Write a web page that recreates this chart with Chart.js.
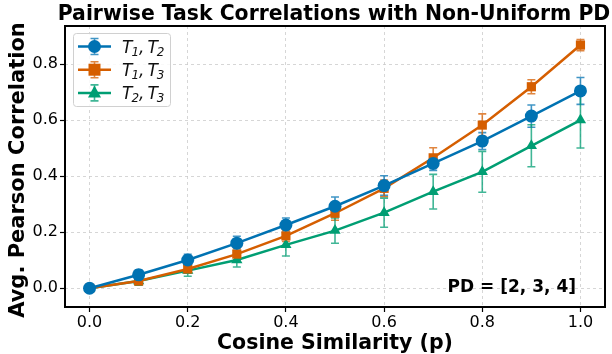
<!DOCTYPE html>
<html>
<head>
<meta charset="utf-8">
<script src="https://cdn.jsdelivr.net/npm/chart.js@4"></script>
<style>
  html, body { margin: 0; padding: 0; background: #fff; }
  #wrap { width: 612px; height: 354px; }
</style>
</head>
<body>
<div id="wrap"><canvas id="myChart" width="612" height="354"></canvas></div>
<script>
// data
const cosSim = [0.0, 0.1, 0.2, 0.3, 0.4, 0.5, 0.6, 0.7, 0.8, 0.9, 1.0];
const t12 = [0.0, 0.048, 0.101, 0.161, 0.226, 0.293, 0.367, 0.446, 0.526, 0.615, 0.705];
const t12Err = [0.012, 0.018, 0.02, 0.025, 0.025, 0.033, 0.035, 0.025, 0.03, 0.04, 0.048];
const t13 = [0.0, 0.026, 0.069, 0.122, 0.187, 0.268, 0.357, 0.466, 0.583, 0.72, 0.869];
const t13Err = [0.012, 0.015, 0.015, 0.02, 0.02, 0.025, 0.03, 0.036, 0.04, 0.025, 0.02];
const t23 = [0.0, 0.026, 0.063, 0.101, 0.155, 0.206, 0.27, 0.345, 0.416, 0.509, 0.601];
const t23Err = [0.012, 0.015, 0.02, 0.025, 0.04, 0.045, 0.052, 0.062, 0.073, 0.075, 0.1];
const xTicks = [0.0, 0.2, 0.4, 0.6, 0.8, 1.0];
const yTicks = [0.0, 0.2, 0.4, 0.6, 0.8];
const seriesNames = [['1', '2'], ['1', '3'], ['2', '3']];

const colors = ['#0072B2', '#D55E00', '#009E73'];
const markers = ['circle', 'rect', 'triangle'];
const FONT = "'DejaVu Sans', sans-serif";

function toPoints(ys) {
  return cosSim.map((x, i) => ({ x: x, y: ys[i] }));
}

const errors = [t12Err, t13Err, t23Err];

const datasets = [t12, t13, t23].map((ys, i) => ({
  label: 'T' + seriesNames[i][0] + ', T' + seriesNames[i][1],
  data: toPoints(ys),
  borderColor: colors[i],
  backgroundColor: colors[i],
  borderWidth: 2.5,
  pointStyle: markers[i],
  pointRadius: 6.5,
  pointBorderWidth: 0,
  pointHoverRadius: 6.5,
  tension: 0,
}));

function hexA(hex, a) {
  const r = parseInt(hex.slice(1, 3), 16), g = parseInt(hex.slice(3, 5), 16), b = parseInt(hex.slice(5, 7), 16);
  return 'rgba(' + r + ',' + g + ',' + b + ',' + a + ')';
}

// error bars, drawn under the markers
const errorBars = {
  id: 'errorBars',
  beforeDatasetsDraw(chart) {
    const ctx = chart.ctx;
    const xs = chart.scales.x, ys = chart.scales.y;
    ctx.save();
    errors.forEach((err, d) => {
      ctx.strokeStyle = hexA(colors[d], 0.75);
      ctx.lineWidth = 1.6;
      chart.data.datasets[d].data.forEach((p, i) => {
        const px = xs.getPixelForValue(p.x);
        const top = ys.getPixelForValue(p.y + err[i]);
        const bot = ys.getPixelForValue(p.y - err[i]);
        ctx.beginPath();
        ctx.moveTo(px, top); ctx.lineTo(px, bot);
        ctx.moveTo(px - 4, top); ctx.lineTo(px + 4, top);
        ctx.moveTo(px - 4, bot); ctx.lineTo(px + 4, bot);
        ctx.stroke();
      });
    });
    ctx.restore();
  }
};

function drawMarker(ctx, style, x, y, color) {
  ctx.fillStyle = color;
  ctx.beginPath();
  if (style === 'circle') {
    ctx.arc(x, y, 6.5, 0, Math.PI * 2);
  } else if (style === 'rect') {
    ctx.rect(x - 6, y - 6, 12, 12);
  } else {
    ctx.moveTo(x, y - 7.5);
    ctx.lineTo(x + 6.5, y + 4.5);
    ctx.lineTo(x - 6.5, y + 4.5);
    ctx.closePath();
  }
  ctx.fill();
}

// frame, titles, legend, annotation
const decorations = {
  id: 'decorations',
  afterDraw(chart) {
    const ctx = chart.ctx;
    const a = chart.chartArea;
    ctx.save();

    ctx.strokeStyle = '#000';
    ctx.lineWidth = 2;
    ctx.strokeRect(a.left, a.top, a.right - a.left, a.bottom - a.top);

    ctx.fillStyle = '#000';
    ctx.textAlign = 'center';
    ctx.textBaseline = 'alphabetic';
    ctx.font = 'bold 20.4px ' + FONT;
    ctx.fillText('Pairwise Task Correlations with Non-Uniform PD', 334, 20);

    ctx.font = 'bold 20.5px ' + FONT;
    ctx.fillText('Cosine Similarity (p)', (a.left + a.right) / 2, 349);

    ctx.save();
    ctx.translate(24, 170);
    ctx.rotate(-Math.PI / 2);
    ctx.font = 'bold 21px ' + FONT;
    ctx.fillText('Avg. Pearson Correlation', 0, 0);
    ctx.restore();

    ctx.font = 'bold 17px ' + FONT;
    ctx.textAlign = 'right';
    ctx.textBaseline = 'middle';
    ctx.fillText('PD = [2, 3, 4]', a.right - 29, 288);

    // legend box
    const bx = 73, by = 33, bw = 97, bh = 73;
    ctx.fillStyle = 'rgba(255,255,255,0.85)';
    ctx.strokeStyle = '#d0d0d0';
    ctx.lineWidth = 1;
    ctx.beginPath();
    ctx.roundRect(bx + 0.5, by + 0.5, bw, bh, 3);
    ctx.fill();
    ctx.stroke();

    seriesNames.forEach((nm, i) => {
      const y = 46.5 + i * 23.2;
      ctx.strokeStyle = colors[i];
      ctx.lineWidth = 2.5;
      ctx.beginPath();
      ctx.moveTo(78, y); ctx.lineTo(111, y);
      ctx.stroke();
      ctx.strokeStyle = hexA(colors[i], 0.75);
      ctx.lineWidth = 1.6;
      ctx.beginPath();
      ctx.moveTo(94.5, y - 8); ctx.lineTo(94.5, y + 8);
      ctx.moveTo(90.5, y - 8); ctx.lineTo(98.5, y - 8);
      ctx.moveTo(90.5, y + 8); ctx.lineTo(98.5, y + 8);
      ctx.stroke();
      drawMarker(ctx, markers[i], 94.5, y, colors[i]);

      ctx.fillStyle = '#111';
      ctx.textAlign = 'left';
      ctx.textBaseline = 'alphabetic';
      let x = 122;
      const base = y + 6;
      ctx.font = 'italic 17px ' + FONT;
      ctx.fillText('T', x, base); x += ctx.measureText('T').width - 1;
      ctx.font = 'italic 12px ' + FONT;
      ctx.fillText(nm[0], x, base + 3); x += ctx.measureText(nm[0]).width;
      ctx.font = 'italic 17px ' + FONT;
      ctx.fillText(',', x, base); x += ctx.measureText(',').width + 3;
      ctx.fillText('T', x, base); x += ctx.measureText('T').width - 1;
      ctx.font = 'italic 12px ' + FONT;
      ctx.fillText(nm[1], x, base + 3);
    });

    ctx.restore();
  }
};

const ctx = document.getElementById('myChart').getContext('2d');
new Chart(ctx, {
  type: 'line',
  data: { datasets: datasets },
  plugins: [errorBars, decorations],
  options: {
    responsive: false,
    animation: false,
    layout: { padding: { top: 26, right: 7, left: 0, bottom: 0 } },
    plugins: { legend: { display: false }, title: { display: false }, tooltip: { enabled: false } },
    scales: {
      x: {
        type: 'linear',
        min: -0.05,
        max: 1.05,
        afterBuildTicks: (scale) => { scale.ticks = xTicks.map(v => ({ value: v })); },
        afterFit: (scale) => { scale.height = 47; },
        ticks: {
          color: '#000',
          font: { family: FONT, size: 16 },
          padding: 1,
          maxRotation: 0,
          callback: (v) => Number(v).toFixed(1),
        },
        grid: { color: '#cccccc', lineWidth: 0.8, tickColor: '#000', tickLength: 5, tickWidth: 1.2 },
        border: { display: false, dash: [3, 3] },
      },
      y: {
        min: -0.067,
        max: 0.937,
        afterBuildTicks: (scale) => { scale.ticks = yTicks.map(v => ({ value: v })); },
        afterFit: (scale) => { scale.width = 65; },
        ticks: {
          color: '#000',
          font: { family: FONT, size: 16 },
          padding: 2,
          callback: (v) => Number(v).toFixed(1),
        },
        grid: { color: '#cccccc', lineWidth: 0.8, tickColor: '#000', tickLength: 5, tickWidth: 1.2 },
        border: { display: false, dash: [3, 3] },
      },
    },
  },
});
</script>
</body>
</html>
